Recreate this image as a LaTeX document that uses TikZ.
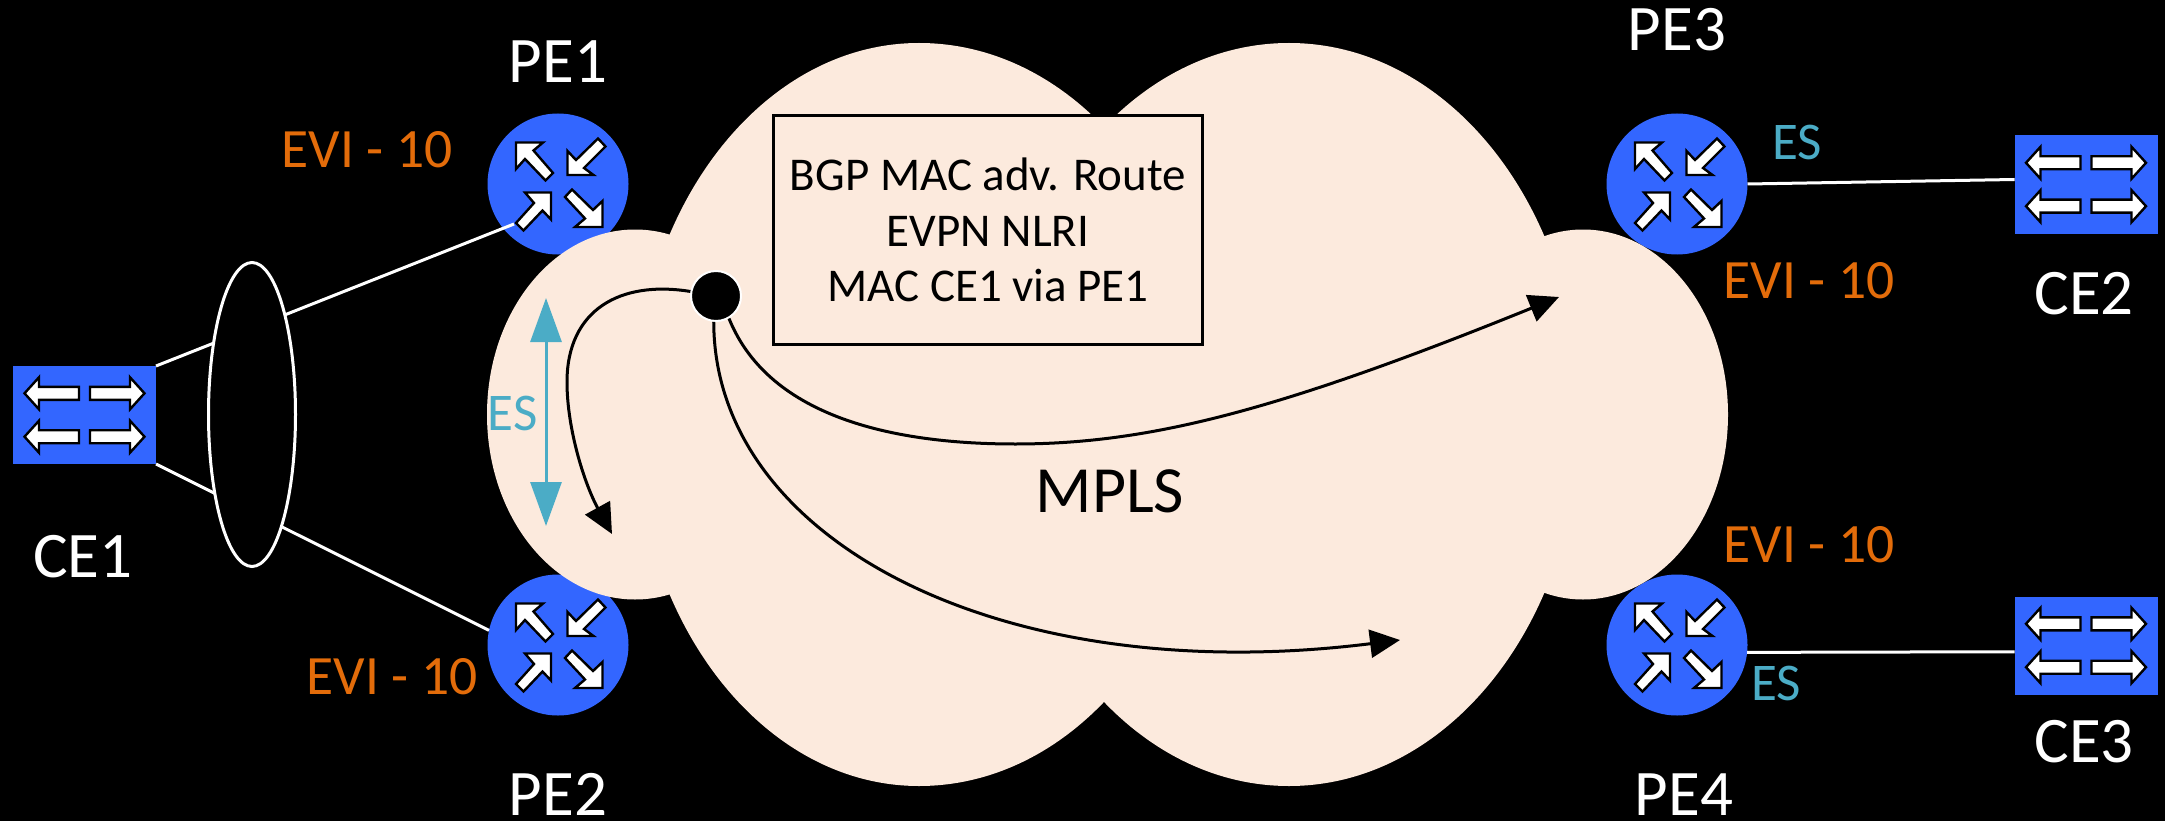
\documentclass[tikz,border=0pt]{standalone}
\usepackage{fontspec}
\setmainfont{Carlito}
\usetikzlibrary{arrows.meta,shapes.geometric}
\definecolor{cloudfill}{HTML}{FCEADD}
\definecolor{netblue}{HTML}{3366FF}
\definecolor{estext}{HTML}{4BACC6}
\definecolor{evitext}{HTML}{E36C0A}
\tikzset{
  routerdev/.style={ellipse,fill=netblue,minimum width=141pt,minimum height=141pt,inner sep=0pt,outer sep=0pt},
  switchdev/.style={rectangle,fill=netblue,minimum width=143pt,minimum height=98pt,inner sep=0pt,outer sep=0pt},
  iconshape/.style={fill=white,draw=black,line width=2.4pt,line join=miter},
  whitelink/.style={draw=white,line width=3pt},
  flow/.style={draw=black,line width=3pt,-{Triangle[length=30pt,width=28pt]}},
  devlabel/.style={text=white,font=\fontsize{65}{68}\selectfont,anchor=base,inner sep=0pt},
  evilabel/.style={text=evitext,font=\fontsize{55.5}{58}\selectfont,anchor=base,inner sep=0pt},
  eslabel/.style={text=estext,font=\fontsize{53}{56}\selectfont,anchor=base,inner sep=0pt},
}
\newcommand{\routericon}[1]{%
  \begin{scope}[shift={(#1)}]
    \path[iconshape] (-42,-41.5) -- (-15,-41.5) -- (-24.5,-33.5) -- (-5,-11) -- (-12.5,-3.5) -- (-33,-25) -- (-42,-15) -- cycle;
    \path[iconshape] (9.5,-9) -- (9.5,-33) -- (18,-24) -- (40,-45.5) -- (47.5,-37.5) -- (26,-16) -- (35.5,-9) -- cycle;
    \path[iconshape] (-7,8.5) -- (-7,35.5) -- (-15.5,26.5) -- (-34.5,46.5) -- (-42,39) -- (-24,19) -- (-33,8.5) -- cycle;
    \path[iconshape] (44.5,43) -- (17,43) -- (27,34.5) -- (7,13) -- (14,5.5) -- (35,26) -- (44.5,17) -- cycle;
  \end{scope}}
\newcommand{\switchicon}[1]{%
  \begin{scope}[shift={(#1)}]
    \foreach \rowy in {-21.7,21.7}{
      \path[iconshape] (-60,\rowy) -- (-45.5,\rowy-16) -- (-45.5,\rowy-6.5) -- (-5.5,\rowy-6.5) -- (-5.5,\rowy+6.5) -- (-45.5,\rowy+6.5) -- (-45.5,\rowy+16) -- cycle;
      \path[iconshape] (60,\rowy) -- (45.5,\rowy-16) -- (45.5,\rowy-6.5) -- (5.5,\rowy-6.5) -- (5.5,\rowy+6.5) -- (45.5,\rowy+6.5) -- (45.5,\rowy+16) -- cycle;
    }
  \end{scope}}
\begin{document}
\begin{tikzpicture}[x=1pt,y=-1pt]
\path[use as bounding box,fill=black] (0,0) rectangle (2165,821);

% devices
\node[routerdev] (pe1) at (558,184) {};
\node[routerdev] (pe2) at (558,645) {};
\node[routerdev] (pe3) at (1677,184) {};
\node[routerdev] (pe4) at (1677,645) {};
\node[switchdev] (ce1) at (84.5,415) {};
\node[switchdev] (ce2) at (2086,184.5) {};
\node[switchdev] (ce3) at (2086,645.5) {};

% links
\coordinate (pe1port) at (514,224);
\draw[whitelink] (ce1.north east) -- (pe1port);
\draw[whitelink] (ce1.south east) -- (pe2.168);
\draw[whitelink] (pe3.east) -- (ce2.176);
\draw[whitelink] (pe4.-6) -- (ce3.185);

\node[ellipse,draw=white,fill=black,line width=3pt,minimum width=87pt,minimum height=304pt,inner sep=0pt] (lag) at (252,414.5) {};

\routericon{558,184}
\routericon{558,645}
\routericon{1677,184}
\routericon{1677,645}
\switchicon{84.5,415}
\switchicon{2086,184.5}
\switchicon{2086,645.5}

% cloud
\fill[cloudfill] (919,43) arc[start angle=90,end angle=270,x radius=285pt,y radius=371.5pt]
                 arc[start angle=270,end angle=450,x radius=292pt,y radius=371.5pt] -- cycle;
\fill[cloudfill] (1289,43) arc[start angle=90,end angle=270,x radius=292pt,y radius=371.5pt]
                 arc[start angle=270,end angle=450,x radius=291pt,y radius=371.5pt] -- cycle;
\fill[cloudfill] (635,414.5) ellipse[x radius=148pt,y radius=185pt];
\fill[cloudfill] (1583,414.5) ellipse[x radius=145pt,y radius=185pt];

% route box
\node[draw=black,fill=cloudfill,line width=3pt,minimum width=429pt,minimum height=229pt,inner sep=0pt,outer sep=0pt,
      align=center,font=\fontsize{47}{55.5}\selectfont,text=black] (routebox) at (988,230)
  {BGP MAC adv. Route\\EVPN NLRI\\MAC CE1 via PE1};

% flows
\node[circle,fill=black,draw=white,line width=2pt,minimum size=50pt,inner sep=0pt] (origin) at (716,296) {};
\coordinate (flowa) at (612,534);
\coordinate (flowb) at (1400,640);
\coordinate (flowc) at (1559,297);
\draw[flow] (origin.170) .. controls (620,280) and (567,310) .. (567,382) .. controls (567,430) and (585,485) .. (flowa);
\draw[flow] (origin.-95) .. controls (714,540) and (1000,690) .. (flowb);
\draw[flow] (origin.-60) .. controls (770,420) and (900,444) .. (1015,444) .. controls (1150,444) and (1280,410) .. (flowc);

% ES double arrow
\coordinate (esa) at (546,298);
\coordinate (esb) at (546,526);
\draw[draw=estext,line width=3pt,{Triangle[length=44pt,width=31pt]}-{Triangle[length=44pt,width=31pt]}] (esa) -- (esb);

% labels
\node[devlabel] (lpe1) at (558,83) {PE1};
\node[devlabel] (lpe2) at (558,815) {PE2};
\node[devlabel] (lpe3) at (1677,51) {PE3};
\node[devlabel] (lpe4) at (1684,815) {PE4};
\node[devlabel] (lce1) at (83,577) {CE1};
\node[devlabel] (lce2) at (2084,314) {CE2};
\node[devlabel] (lce3) at (2084,762) {CE3};
\node[evilabel] (e1) at (367,167.5) {EVI - 10};
\node[evilabel] (e2) at (392,694) {EVI - 10};
\node[evilabel] (e3) at (1809,298) {EVI - 10};
\node[evilabel] (e4) at (1809,562) {EVI - 10};
\node[eslabel] (es1) at (512.5,430) {ES};
\node[eslabel] (es3) at (1797,160) {ES};
\node[eslabel] (es4) at (1776,700) {ES};
\node[anchor=base,inner sep=0pt,text=black,font=\fontsize{66}{70}\selectfont] (mpls) at (1110,512) {MPLS};
\end{tikzpicture}
\end{document}
